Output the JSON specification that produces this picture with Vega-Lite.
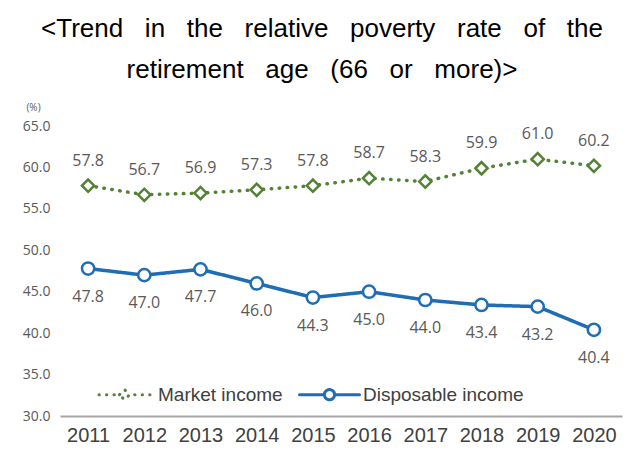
{
  "$schema": "https://vega.github.io/schema/vega-lite/v6.json",
  "width": 562,
  "height": 290,
  "autosize": {"type": "none"},
  "padding": {"left": 60, "top": 126, "right": 13, "bottom": 34},
  "background": "white",
  "title": {
    "text": ["<Trend\u00a0\u00a0 in\u00a0\u00a0 the\u00a0\u00a0 relative\u00a0\u00a0 poverty\u00a0\u00a0 rate\u00a0\u00a0 of\u00a0\u00a0 the", "retirement\u00a0\u00a0 age\u00a0\u00a0 (66\u00a0\u00a0 or\u00a0\u00a0 more)>"],
    "font": "Liberation Sans",
    "fontSize": 26,
    "fontWeight": "normal",
    "color": "#000000",
    "lineHeight": 41,
    "anchor": "middle",
    "frame": "group",
    "dx": -19,
    "offset": 19
  },
  "data": {
    "values": [
      {"year": "2011", "series": "Market income", "value": 57.8},
      {"year": "2012", "series": "Market income", "value": 56.7},
      {"year": "2013", "series": "Market income", "value": 56.9},
      {"year": "2014", "series": "Market income", "value": 57.3},
      {"year": "2015", "series": "Market income", "value": 57.8},
      {"year": "2016", "series": "Market income", "value": 58.7},
      {"year": "2017", "series": "Market income", "value": 58.3},
      {"year": "2018", "series": "Market income", "value": 59.9},
      {"year": "2019", "series": "Market income", "value": 61.0},
      {"year": "2020", "series": "Market income", "value": 60.2},
      {"year": "2011", "series": "Disposable income", "value": 47.8},
      {"year": "2012", "series": "Disposable income", "value": 47.0},
      {"year": "2013", "series": "Disposable income", "value": 47.7},
      {"year": "2014", "series": "Disposable income", "value": 46.0},
      {"year": "2015", "series": "Disposable income", "value": 44.3},
      {"year": "2016", "series": "Disposable income", "value": 45.0},
      {"year": "2017", "series": "Disposable income", "value": 44.0},
      {"year": "2018", "series": "Disposable income", "value": 43.4},
      {"year": "2019", "series": "Disposable income", "value": 43.2},
      {"year": "2020", "series": "Disposable income", "value": 40.4}
    ]
  },
  "encoding": {
    "x": {
      "field": "year",
      "type": "ordinal",
      "axis": {
        "title": null,
        "labelAngle": 0,
        "labelFont": "Liberation Sans",
        "labelFontSize": 20,
        "labelColor": "#404040",
        "labelPadding": 9,
        "ticks": false,
        "grid": false,
        "domainColor": "#a6a6a6",
        "domainWidth": 2
      }
    },
    "y": {
      "field": "value",
      "type": "quantitative",
      "scale": {"domain": [30, 65], "nice": false, "zero": false},
      "axis": {
        "values": [30, 35, 40, 45, 50, 55, 60, 65],
        "format": ".1f",
        "grid": false,
        "domain": false,
        "ticks": false,
        "labelPadding": 10,
        "labelFont": "Open Sans",
        "labelFontSize": 14,
        "labelColor": "#595959",
        "title": "(%)",
        "titleAngle": 0,
        "titleX": -27,
        "titleY": -19,
        "titleAlign": "center",
        "titleBaseline": "middle",
        "titleFont": "Open Sans",
        "titleFontSize": 10,
        "titleFontWeight": "normal",
        "titleColor": "#595959"
      }
    }
  },
  "layer": [
    {
      "mark": {"type": "line", "strokeWidth": 3.5, "strokeCap": "round"},
      "encoding": {
        "color": {
          "field": "series",
          "type": "nominal",
          "scale": {"domain": ["Market income", "Disposable income"], "range": ["#548235", "#1f6db5"]},
          "legend": {
            "title": null,
            "orient": "none",
            "direction": "horizontal",
            "legendX": 33,
            "legendY": 237,
            "padding": 0,
            "symbolSize": 3600,
            "symbolStrokeWidth": 3,
            "columnPadding": 10,
            "labelOffset": 2,
            "labelLimit": 400,
            "labelFont": "Liberation Sans",
            "labelFontSize": 19,
            "labelColor": "#404040",
            "encode": {
              "symbols": {
                "update": {
                  "shape": {"signal": "datum.value === 'Market income' ? 'M-0.85,0L-0.84,0M-0.6,0L-0.59,0M-0.35,0L-0.34,0M0.34,0L0.35,0M0.59,0L0.6,0M0.84,0L0.85,0M-0.17,0L0,-0.17L0.17,0L0,0.17Z' : 'M-1,0L-0.17,0M0.17,0L1,0M-0.17,0A0.17,0.17,0,1,0,0.17,0A0.17,0.17,0,1,0,-0.17,0Z'"},
                  "fill": {"value": "white"},
                  "fillOpacity": {"value": 1},
                  "strokeWidth": {"value": 3},
                  "strokeCap": {"value": "round"},
                  "strokeDash": {"value": [1, 0]},
                  "opacity": {"value": 1}
                }
              }
            }
          }
        },
        "strokeDash": {
          "field": "series",
          "type": "nominal",
          "scale": {"domain": ["Market income", "Disposable income"], "range": [[0.5, 7.5], [1, 0]]},
          "legend": null
        }
      }
    },
    {
      "transform": [{"filter": "datum.series === 'Market income'"}],
      "mark": {"type": "point", "shape": "diamond", "filled": false, "fill": "white", "fillOpacity": 1, "opacity": 1, "strokeWidth": 2.5, "size": 150},
      "encoding": {"color": {"field": "series", "type": "nominal", "legend": null}}
    },
    {
      "transform": [{"filter": "datum.series === 'Disposable income'"}],
      "mark": {"type": "point", "shape": "circle", "filled": false, "fill": "white", "fillOpacity": 1, "opacity": 1, "strokeWidth": 2.5, "size": 150},
      "encoding": {"color": {"field": "series", "type": "nominal", "legend": null}}
    },
    {
      "transform": [{"filter": "datum.series === 'Market income'"}],
      "mark": {"type": "text", "dy": -20, "baseline": "alphabetic", "font": "Open Sans", "fontSize": 16, "color": "#595959"},
      "encoding": {"text": {"field": "value", "type": "quantitative", "format": ".1f"}}
    },
    {
      "transform": [{"filter": "datum.series === 'Disposable income'"}],
      "mark": {"type": "text", "dy": 33, "baseline": "alphabetic", "font": "Open Sans", "fontSize": 16, "color": "#595959"},
      "encoding": {"text": {"field": "value", "type": "quantitative", "format": ".1f"}}
    }
  ],
  "config": {"view": {"stroke": null}}
}
